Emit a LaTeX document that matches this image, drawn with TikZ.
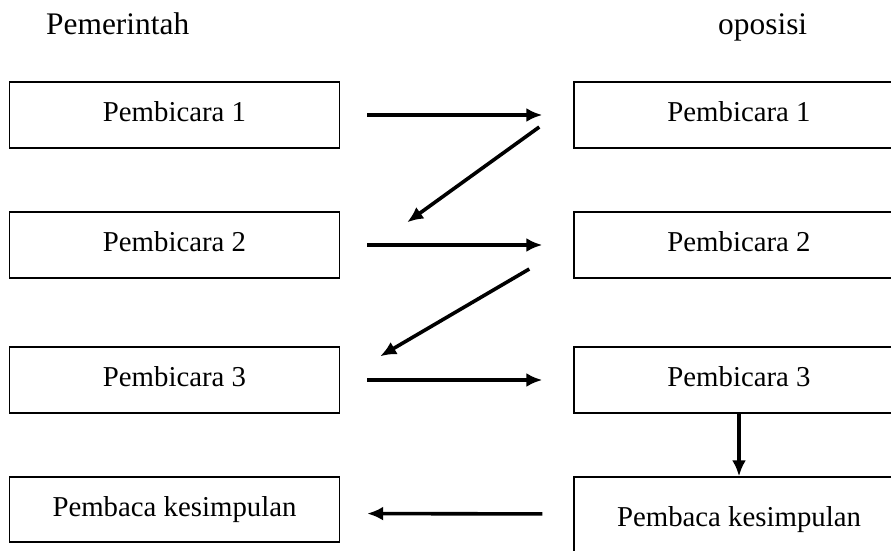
\documentclass[tikz,border=0pt]{standalone}
\usepackage{fontspec}
\setmainfont{Liberation Serif}
\usetikzlibrary{arrows.meta}

\begin{document}
\begin{tikzpicture}[x=1pt,y=1pt]
		\tikzset{kotak/.style = {shape=rectangle,draw,line width=1.4pt,minimum width=330pt,minimum height=66pt,inner sep=0pt,text depth=6pt,font=\fontsize{28.8pt}{34pt}\selectfont}}
		\tikzset{judul/.style = {anchor=base west,inner sep=0pt,font=\fontsize{31.4pt}{36pt}\selectfont}}
		\tikzset{panah/.style = {-{Latex[length=16pt,width=14pt]},line width=3.6pt}}
		\useasboundingbox (0,0) rectangle (891,550);
		\clip (0,0) rectangle (891,550);
		\node[judul] (pem) at (46,515) {Pemerintah};
		\node[judul] (opo) at (718,515) {oposisi};
		\node[kotak] (p1) at (174.5,435) {Pembicara 1};
		\node[kotak] (p2) at (174.5,305) {Pembicara 2};
		\node[kotak] (p3) at (174.5,170) {Pembicara 3};
		\node[kotak,minimum height=65pt] (p4) at (174.5,40.5) {Pembaca kesimpulan};
		\node[kotak] (o1) at (739,435) {Pembicara 1};
		\node[kotak] (o2) at (739,305) {Pembicara 2};
		\node[kotak] (o3) at (739,170) {Pembicara 3};
		\node[kotak,minimum height=86pt] (o4) at (739,30) {Pembaca kesimpulan};
		\draw[panah,shorten <=27pt,shorten >=31pt] (p1) -- (o1);
		\draw[panah] ([xshift=-34pt,yshift=-12pt]o1.west) -- ([xshift=67pt,yshift=-11pt]p2.north east);
		\draw[panah,shorten <=27pt,shorten >=31pt] (p2) -- (o2);
		\draw[panah] ([xshift=-44pt,yshift=-24pt]o2.west) -- ([xshift=40pt,yshift=-10pt]p3.north east);
		\draw[panah,shorten <=27pt,shorten >=31pt] (p3) -- (o3);
		\draw[panah] (o3) -- (o4);
		\draw[panah,shorten <=31pt,shorten >=27pt] ([yshift=6pt]o4.west) -- ([yshift=-4pt]p4.east);
	\end{tikzpicture}
\end{document}
